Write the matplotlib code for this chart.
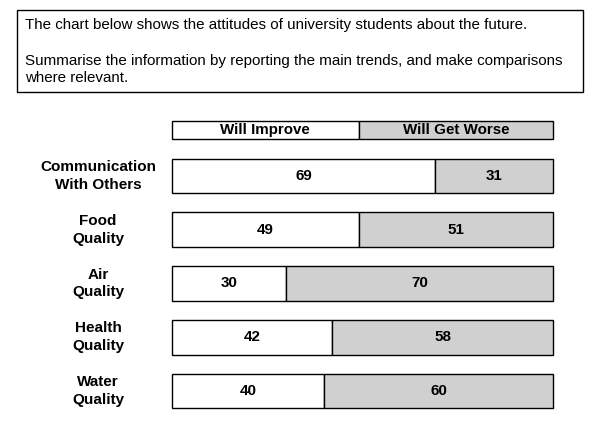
import matplotlib.pyplot as plt
from matplotlib.patches import Rectangle

plt.rcParams['font.family'] = ['Liberation Sans', 'DejaVu Sans']

# data
categories = ["Communication\nWith Others", "Food\nQuality", "Air\nQuality",
              "Health\nQuality", "Water\nQuality"]
improve = [69, 49, 30, 42, 40]
worse = [31, 51, 70, 58, 60]
header_labels = ["Will Improve", "Will Get Worse"]
header_split = [49, 51]

W, H = 600, 438
fig = plt.figure(figsize=(W / 100, H / 100), dpi=100)

# task text box
def fx(px):
    return px / W

def fy(py):
    return 1 - py / H

fig.patches.append(Rectangle((fx(17), fy(92)), fx(583) - fx(17), fy(10) - fy(92),
                             transform=fig.transFigure, fill=False,
                             edgecolor="black", linewidth=1.0))
fig.text(fx(25), fy(24.5), "The chart below shows the attitudes of university students about the future.",
         fontsize=10.9, va="center", ha="left")
fig.text(fx(25), fy(61), "Summarise the information by reporting the main trends, and make comparisons",
         fontsize=10.9, va="center", ha="left")
fig.text(fx(25), fy(78.5), "where relevant.", fontsize=10.9, va="center", ha="left")

# bars
ax = fig.add_axes([fx(172), fy(420), fx(553) - fx(172), fy(115) - fy(420)])
ax.set_xlim(0, 100)
ax.set_ylim(5.54, -0.135)
ax.axis("off")

grey = "#d0d0d0"
pos = list(range(1, len(categories) + 1))
b1 = ax.barh(pos, improve, height=0.65, color="white", edgecolor="black", linewidth=1.0)
b2 = ax.barh(pos, worse, left=improve, height=0.65, color=grey, edgecolor="black", linewidth=1.0)
for p, a, b, c in zip(pos, improve, worse, categories):
    ax.text(a / 2, p, str(a), ha="center", va="center", fontsize=10.9, fontweight="bold")
    ax.text(a + b / 2, p, str(b), ha="center", va="center", fontsize=10.9, fontweight="bold")
    ax.text(-19.4, p, c, ha="center", va="center", fontsize=11, fontweight="bold",
            linespacing=1.35)

# header strip
hy = 0.15
h1 = ax.barh(hy, header_split[0], height=0.335, color="white", edgecolor="black", linewidth=1.0)
h2 = ax.barh(hy, header_split[1], left=header_split[0], height=0.335, color=grey,
             edgecolor="black", linewidth=1.0)
ax.text(header_split[0] / 2, hy, header_labels[0], ha="center", va="center",
        fontsize=10.9, fontweight="bold")
ax.text(header_split[0] + header_split[1] / 2, hy, header_labels[1], ha="center",
        va="center", fontsize=10.9, fontweight="bold")

for cont in (b1, b2, h1, h2):
    for r in cont:
        r.set_clip_on(False)

fig.savefig("out.png", dpi=100)
